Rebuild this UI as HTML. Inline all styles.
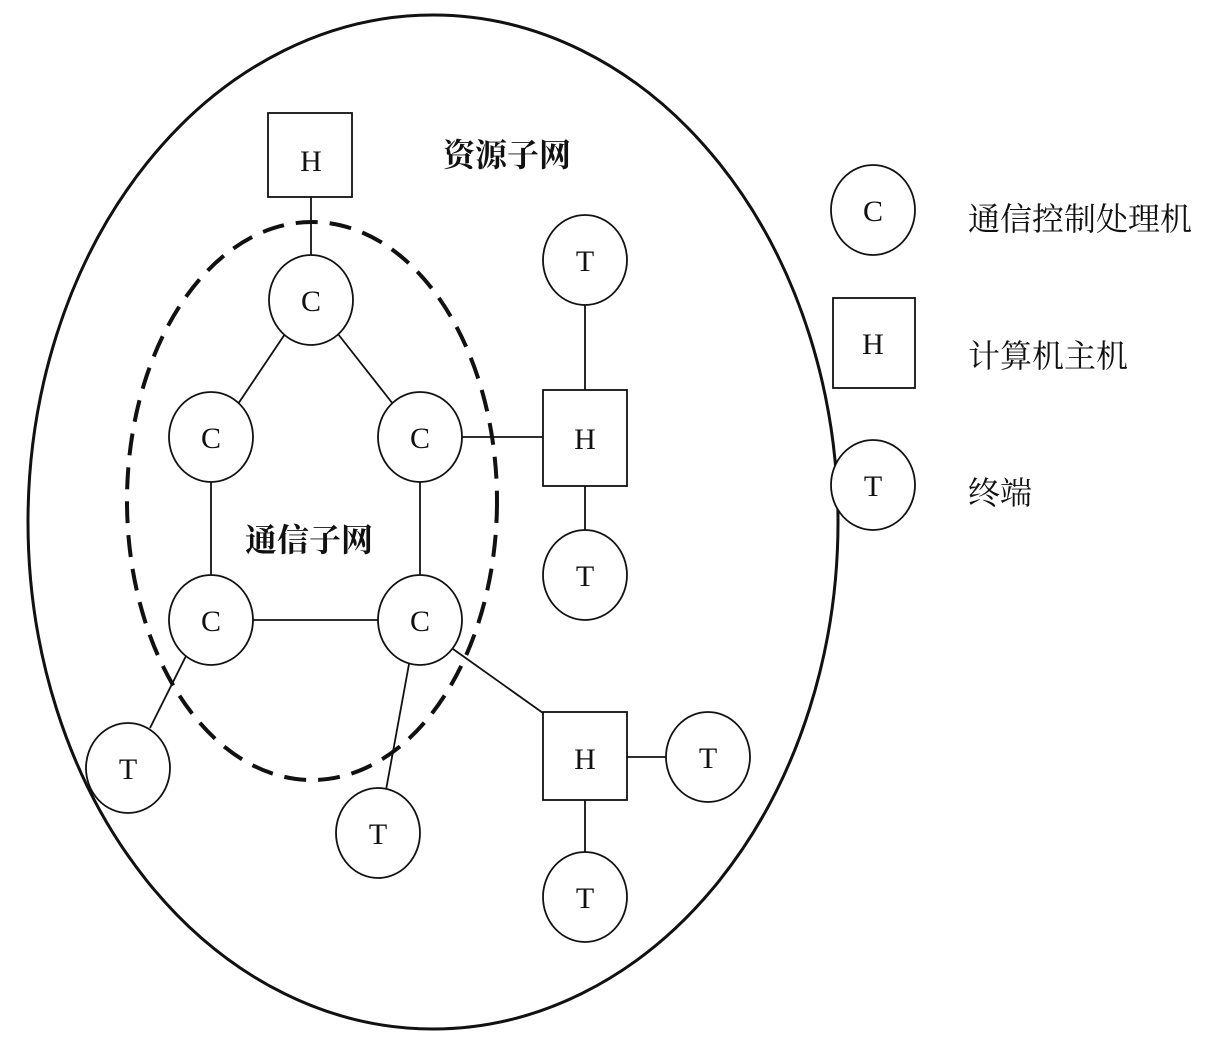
<!DOCTYPE html>
<html><head><meta charset="utf-8"><style>
html,body{margin:0;padding:0;background:#fff;}
svg text{font-family:"Liberation Serif","Noto Serif CJK SC",serif;}
.cjk{font-family:"Liberation Serif","Noto Serif CJK SC","Noto Sans CJK SC",serif;}
</style></head><body>
<svg width="1215" height="1050" viewBox="0 0 1215 1050" xmlns="http://www.w3.org/2000/svg">
<rect width="1215" height="1050" fill="#fff"/>
<g fill="none" stroke="#111">
<ellipse cx="433" cy="522" rx="405" ry="507" stroke-width="3"/>
<ellipse cx="312" cy="501" rx="185" ry="279" stroke-width="4" stroke-dasharray="22,12"/>
<g stroke-width="1.8">
<line x1="311" y1="197" x2="311" y2="256"/>
<line x1="285" y1="334" x2="238" y2="404"/>
<line x1="338" y1="334" x2="393" y2="404"/>
<line x1="211" y1="482" x2="211" y2="575"/>
<line x1="420" y1="482" x2="420" y2="575"/>
<line x1="253" y1="620" x2="378" y2="620"/>
<line x1="462" y1="437" x2="543" y2="437"/>
<line x1="585" y1="303" x2="585" y2="390"/>
<line x1="585" y1="486" x2="585" y2="531"/>
<line x1="186" y1="656" x2="150" y2="728"/>
<line x1="409" y1="664" x2="386" y2="790"/>
<line x1="453" y1="649" x2="543" y2="713"/>
<line x1="627" y1="757" x2="666" y2="757"/>
<line x1="585" y1="800" x2="585" y2="853"/>
</g>
<g stroke-width="1.8" fill="#fff">
<rect x="268" y="113" width="84" height="84"/>
<ellipse cx="311" cy="300" rx="42" ry="45"/>
<ellipse cx="211" cy="437" rx="42" ry="45"/>
<ellipse cx="420" cy="437" rx="42" ry="45"/>
<ellipse cx="211" cy="620" rx="42" ry="45"/>
<ellipse cx="420" cy="620" rx="42" ry="45"/>
<ellipse cx="585" cy="260" rx="42" ry="45"/>
<rect x="543" y="390" width="84" height="96"/>
<ellipse cx="585" cy="575" rx="42" ry="45"/>
<rect x="543" y="712" width="84" height="88"/>
<ellipse cx="708" cy="757" rx="42" ry="45"/>
<ellipse cx="585" cy="897" rx="42" ry="45"/>
<ellipse cx="128" cy="768" rx="42" ry="45"/>
<ellipse cx="378" cy="833" rx="42" ry="45"/>
<ellipse cx="873" cy="210" rx="42" ry="45"/>
<rect x="833" y="298" width="82" height="90"/>
<ellipse cx="873" cy="485" rx="42" ry="45"/>
</g>
</g>
<g font-size="30" fill="#111" text-anchor="middle">
<text x="311" y="171">H</text>
<text x="311" y="311">C</text>
<text x="211" y="448">C</text>
<text x="420" y="448">C</text>
<text x="211" y="631">C</text>
<text x="420" y="631">C</text>
<text x="585" y="271">T</text>
<text x="585" y="449">H</text>
<text x="585" y="586">T</text>
<text x="585" y="769">H</text>
<text x="708" y="768">T</text>
<text x="585" y="908">T</text>
<text x="128" y="779">T</text>
<text x="378" y="844">T</text>
<text x="873" y="221">C</text>
<text x="873" y="354">H</text>
<text x="873" y="496">T</text>
</g>
<g class="cjk" font-size="32" fill="#111">
<text x="443" y="166" font-weight="bold">资源子网</text>
<text x="245" y="551" font-weight="bold">通信子网</text>
<text x="968" y="230">通信控制处理机</text>
<text x="968" y="367">计算机主机</text>
<text x="968" y="504">终端</text>
</g>
</svg>
</body></html>
